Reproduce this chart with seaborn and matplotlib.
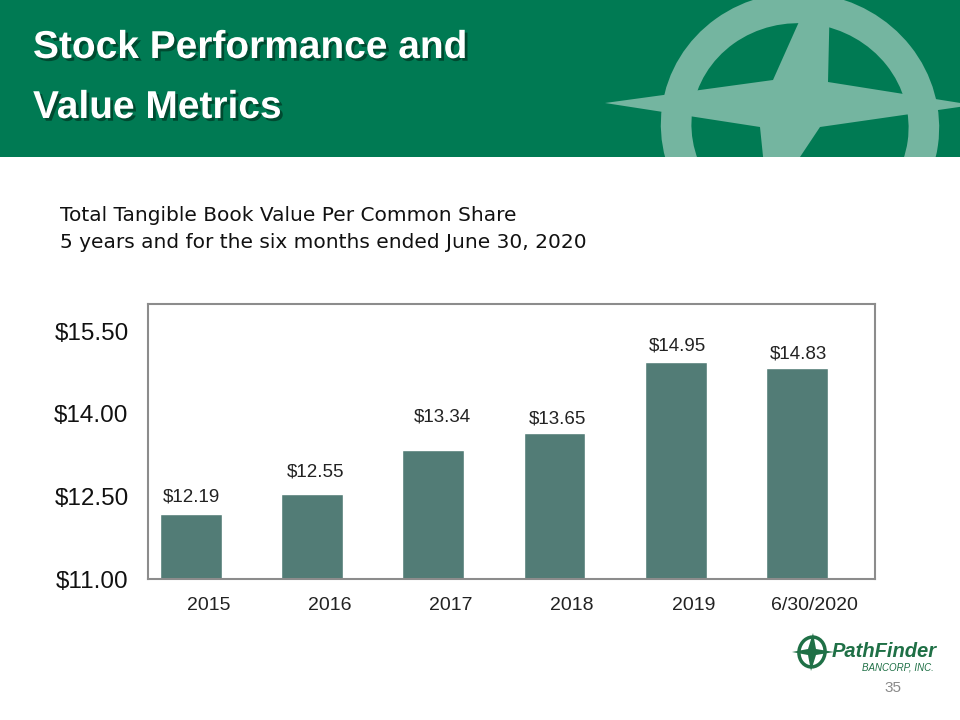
import matplotlib
matplotlib.use("Agg")
import matplotlib.pyplot as plt
import matplotlib.patches as mpatches
import matplotlib.patheffects as pe
import seaborn as sns
import pandas as pd

# ---------------- data ----------------
categories = ["2015", "2016", "2017", "2018", "2019", "6/30/2020"]
values = [12.19, 12.55, 13.34, 13.65, 14.95, 14.83]
value_labels = ["$12.19", "$12.55", "$13.34", "$13.65", "$14.95", "$14.83"]
ytick_values = [11.00, 12.50, 14.00, 15.50]
ytick_labels = ["$11.00", "$12.50", "$14.00", "$15.50"]

title_lines = ["Stock Performance and", "Value Metrics"]
subtitle_lines = ["Total Tangible Book Value Per Common Share",
                  "5 years and for the six months ended June 30, 2020"]
page_number = "35"

# ---------------- style ----------------
HEADER_GREEN = "#007A53"
LIGHT_GREEN = "#74B5A0"
BAR_COLOR = "#527C76"
LOGO_GREEN = "#1F7046"
BAR_SHIFT = 0.145          # bars sit left of the category centre (as in the original)
label_gap_px = [12, 17, 29, 10, 11, 10]
label_dx_px = [0, 3, 9, 3, 2, 2]

sns.set_theme(style="white")
plt.rcParams["font.family"] = ["Liberation Sans", "DejaVu Sans"]

df = pd.DataFrame({"category": categories, "value": values})

fig = plt.figure(figsize=(9.6, 7.2), dpi=100)
fig.patch.set_facecolor("white")

# background / decoration layer in pixel coordinates
bg = fig.add_axes([0, 0, 1, 1])
bg.set_xlim(0, 960)
bg.set_ylim(720, 0)
bg.axis("off")

header = mpatches.Rectangle((0, 0), 960, 157, facecolor=HEADER_GREEN,
                            edgecolor="none", zorder=0)
bg.add_patch(header)

star = mpatches.Polygon([(605, 103), (773, 80), (831, -50), (828, 82),
                         (973, 105), (820, 127), (768, 205), (760, 127)],
                        closed=True, facecolor=LIGHT_GREEN, edgecolor="none",
                        zorder=1)
bg.add_patch(star)
star.set_clip_path(header)
ring = mpatches.Ellipse((800, 126), width=248, height=236, angle=8,
                        fill=False, edgecolor=LIGHT_GREEN, linewidth=22,
                        zorder=1)
bg.add_patch(ring)
ring.set_clip_path(header)

shadow = [pe.withSimplePatchShadow(offset=(2, -2), shadow_rgbFace="#002a1a",
                                   alpha=0.6)]
for i, line in enumerate(title_lines):
    bg.text(33, 58 + i * 60, line, color="white", fontsize=28,
            fontweight="bold", va="baseline", ha="left", zorder=3,
            path_effects=shadow)

for i, line in enumerate(subtitle_lines):
    bg.text(60, 221 + i * 27, line, color="#111111", fontsize=14.5,
            va="baseline", ha="left", family=["DejaVu Sans"])

# footer logo
lstar = mpatches.Polygon([(792, 652), (808, 649), (813, 633), (816, 649),
                          (834, 652), (816, 655), (811, 671), (808, 655)],
                         closed=True, facecolor=LOGO_GREEN, edgecolor="none")
bg.add_patch(lstar)
bg.add_patch(mpatches.Ellipse((812, 652), width=26, height=30, angle=10,
                              fill=False, edgecolor=LOGO_GREEN, linewidth=2.5))
bg.text(832, 657, "PathFinder", color=LOGO_GREEN, fontsize=14.5,
        fontweight="bold", fontstyle="italic", va="baseline", ha="left")
bg.text(934, 671, "BANCORP, INC.", color=LOGO_GREEN, fontsize=7,
        fontstyle="italic", va="baseline", ha="right")
bg.text(893, 692, page_number, color="#8a8a8a", fontsize=11,
        va="baseline", ha="center")

# ---------------- chart ----------------
ax = fig.add_axes([148 / 960, 1 - 579 / 720, (875 - 148) / 960, (579 - 304) / 720])
sns.barplot(data=df, x="category", y="value", color=BAR_COLOR, saturation=1,
            width=0.51, ax=ax)
for p in ax.patches:
    p.set_x(p.get_x() - BAR_SHIFT)
ax.set_xlim(-0.5, len(categories) - 0.5)
ax.set_ylim(11, 16)
ax.set_yticks(ytick_values)
ax.set_yticklabels(ytick_labels, fontsize=17.5, color="#111111")
ax.tick_params(axis="y", length=0, pad=14)
ax.tick_params(axis="x", length=0, pad=13, labelsize=14, labelcolor="#222222")
ax.set_xlabel("")
ax.set_ylabel("")
for sp in ax.spines.values():
    sp.set_visible(True)
    sp.set_color("#8c8c8c")
    sp.set_linewidth(1.5)

for i, (v, lab) in enumerate(zip(values, value_labels)):
    ax.annotate(lab, xy=(i - BAR_SHIFT, v),
                xytext=(label_dx_px[i] * 0.72, label_gap_px[i] * 0.72),
                textcoords="offset points", ha="center", va="baseline",
                fontsize=13.5, color="#222222")

fig.savefig("out.png", dpi=100)
